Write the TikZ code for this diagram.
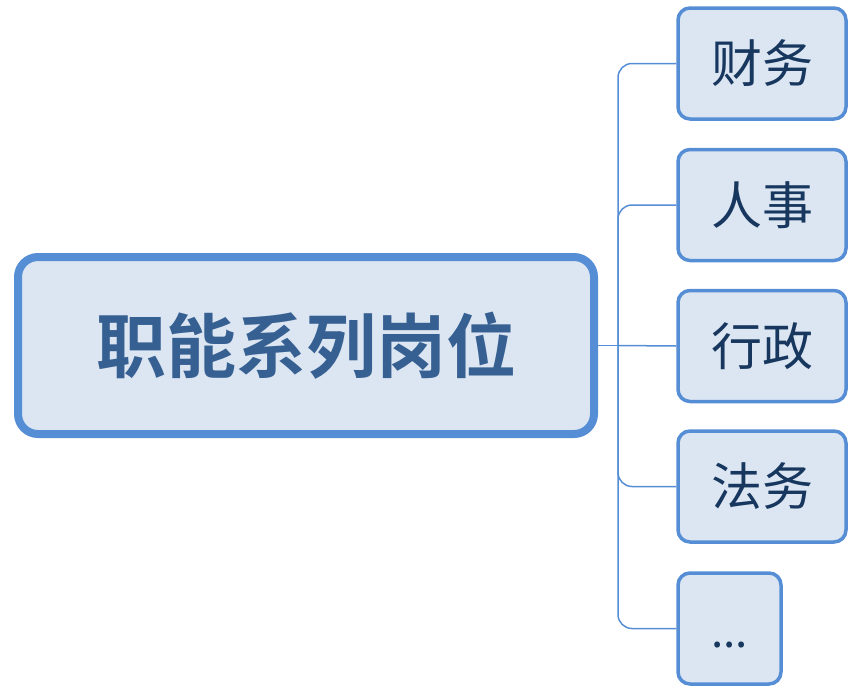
\documentclass[tikz,border=0pt]{standalone}
\usepackage{fontspec}
\newfontfamily\cjk{Noto Sans CJK SC}
\newfontfamily\cjkb{Noto Sans CJK SC Bold}
\definecolor{bordc}{HTML}{558ED5}
\definecolor{fillc}{HTML}{DCE6F2}
\definecolor{maintext}{HTML}{376092}
\definecolor{subtext}{HTML}{17375E}
\begin{document}
\begin{tikzpicture}[x=1pt,y=-1pt,
  mainbox/.style={draw=bordc, line width=8pt, fill=fillc, rounded corners=20pt,
    minimum width=576pt, minimum height=177pt, inner sep=0pt,
    font=\cjkb\fontsize{70}{80}\selectfont, text=maintext},
  subbox/.style={draw=bordc, line width=3.5pt, fill=fillc, rounded corners=12pt,
    minimum width=168pt, minimum height=111pt, inner sep=0pt,
    font=\cjk\fontsize{51}{60}\selectfont, text=subtext},
  conn/.style={draw=bordc, line width=1.5pt, rounded corners=14pt}]
\useasboundingbox (0,0) rectangle (865,694);
\node[mainbox] (main) at (306,345.5) {职能系列岗位};
\node[subbox] (b1) at (762,63.5) {财务};
\node[subbox] (b2) at (762,205) {人事};
\node[subbox] (b3) at (762,346) {行政};
\node[subbox] (b4) at (762,486.5) {法务};
\node[subbox, minimum width=103pt] (b5) at (729.5,628.5) {\vphantom{财}\fontsize{44}{52}\selectfont...};
\coordinate (j) at (618,345.5);
\draw[conn] (main.east) -- (j);
\draw[conn] (j) |- (b1.west);
\draw[conn] (j) |- (b2.west);
\draw[conn] (j) -- (b3.west);
\draw[conn] (j) |- (b4.west);
\draw[conn] (j) |- (b5.west);
\end{tikzpicture}
\end{document}
